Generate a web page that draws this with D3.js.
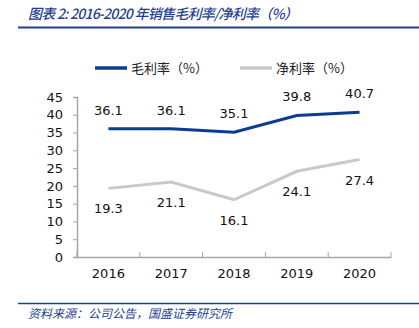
<!DOCTYPE html>
<html>
<head>
<meta charset="utf-8">
<script src="https://cdn.jsdelivr.net/npm/d3@7"></script>
<style>
  html, body { margin: 0; padding: 0; background: #fff; }
  svg { display: block; }
</style>
</head>
<body>
<div id="chart"></div>
<script>
(function () {
    "use strict";

    // ── Data ──
    const years = ["2016", "2017", "2018", "2019", "2020"];
    const grossMargin = [36.1, 36.1, 35.1, 39.8, 40.7];
    const netMargin = [19.3, 21.1, 16.1, 24.1, 27.4];
    const yTicks = [0, 5, 10, 15, 20, 25, 30, 35, 40, 45];

    const W = 419, H = 328;
    const blue = "#0a3d91", grey = "#c9c9c9", titleBlue = "#1f3f8f";
    const numFont = "'DejaVu Sans', Verdana, sans-serif";
    const cjkFont = "'Noto Sans CJK SC', 'Noto Sans', sans-serif";

    const svg = d3.select("#chart").append("svg")
        .attr("width", W).attr("height", H);

    // ── Header / footer ──
    svg.append("text")
        .attr("x", 28).attr("y", 19)
        .attr("fill", titleBlue)
        .attr("font-family", cjkFont)
        .attr("font-size", 14)
        .attr("font-style", "italic")
        .attr("font-weight", 500)
        .attr("textLength", 270)
        .text("图表 2:  2016-2020 年销售毛利率/净利率（%）");

    svg.append("line")
        .attr("x1", 18).attr("x2", W).attr("y1", 27.5).attr("y2", 27.5)
        .attr("stroke", titleBlue).attr("stroke-width", 2);

    svg.append("line")
        .attr("x1", 18).attr("x2", W).attr("y1", 303.5).attr("y2", 303.5)
        .attr("stroke", titleBlue).attr("stroke-width", 1.5);

    svg.append("text")
        .attr("x", 28).attr("y", 318)
        .attr("fill", titleBlue)
        .attr("font-family", cjkFont)
        .attr("font-size", 12)
        .attr("font-style", "italic")
        .text("资料来源：公司公告，国盛证券研究所");

    // ── Scales ──
    const x = d3.scaleBand().domain(years).range([77, 391]);
    const y = d3.scaleLinear().domain([0, 45]).range([257, 97]);
    const cx = d => x(d) + x.bandwidth() / 2;

    // ── Axes ──
    const yAxis = svg.append("g")
        .attr("transform", "translate(77,0)")
        .call(d3.axisLeft(y).tickValues(yTicks).tickSize(4).tickPadding(10));
    const xAxis = svg.append("g")
        .attr("transform", "translate(0,257)")
        .call(d3.axisBottom(x).tickSize(0).tickPadding(12));

    // category separators on the x axis
    svg.append("g").selectAll("line")
        .data(years.concat(["end"]))
        .join("line")
        .attr("x1", (d, i) => i < years.length ? x(d) : x(years[years.length - 1]) + x.bandwidth())
        .attr("x2", (d, i) => i < years.length ? x(d) : x(years[years.length - 1]) + x.bandwidth())
        .attr("y1", 257).attr("y2", 252)
        .attr("stroke", "#a6a6a6");

    [yAxis, xAxis].forEach(a => {
        a.select(".domain").attr("stroke", "#a6a6a6").attr("stroke-width", 1.5);
        a.selectAll(".tick line").attr("stroke", "#a6a6a6");
        a.selectAll("text")
            .attr("font-family", numFont)
            .attr("font-size", 13)
            .attr("fill", "#111");
    });

    // ── Lines ──
    const line = d3.line().x((d, i) => cx(years[i])).y(d => y(d));

    svg.append("path").datum(netMargin)
        .attr("d", line).attr("fill", "none")
        .attr("stroke", grey).attr("stroke-width", 3);

    svg.append("path").datum(grossMargin)
        .attr("d", line).attr("fill", "none")
        .attr("stroke", blue).attr("stroke-width", 3);

    // ── Value labels ──
    svg.append("g").selectAll("text")
        .data(grossMargin).join("text")
        .attr("x", (d, i) => cx(years[i]))
        .attr("y", d => y(d) - 14)
        .attr("text-anchor", "middle")
        .attr("font-family", numFont).attr("font-size", 13).attr("fill", "#111")
        .text(d => d.toFixed(1));

    svg.append("g").selectAll("text")
        .data(netMargin).join("text")
        .attr("x", (d, i) => cx(years[i]))
        .attr("y", d => y(d) + 25)
        .attr("text-anchor", "middle")
        .attr("font-family", numFont).attr("font-size", 13).attr("fill", "#111")
        .text(d => d.toFixed(1));

    // ── Legend ──
    const legend = [
        { name: "毛利率（%）", color: blue, x: 95 },
        { name: "净利率（%）", color: grey, x: 240 }
    ];
    const lg = svg.append("g").selectAll("g").data(legend).join("g")
        .attr("transform", d => `translate(${d.x},68)`);
    lg.append("line")
        .attr("x1", 0).attr("x2", 32)
        .attr("stroke", d => d.color).attr("stroke-width", 3.5);
    lg.append("text")
        .attr("x", 36).attr("y", 5)
        .attr("font-family", cjkFont).attr("font-size", 13).attr("fill", "#222")
        .text(d => d.name);
})();
</script>
</body>
</html>
